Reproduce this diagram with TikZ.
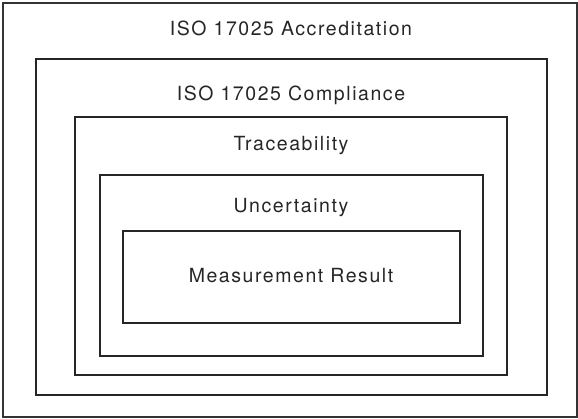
\documentclass[tikz,border=0pt]{standalone}
\usepackage{fontspec}
\newfontfamily\heros{TeX Gyre Heros}[LetterSpace=8]
\newcommand{\lblfont}{\heros\fontsize{19.5}{22}\selectfont}
\begin{document}
\begin{tikzpicture}[x=1pt,y=1pt,line width=1.6pt,lbl/.style={anchor=base,font=\lblfont,color=black!85}]
	\useasboundingbox (0,0) rectangle (578,419);
	% nested boxes, outermost first
	\draw[black!80] (3,2) rectangle (577,416);
	\draw[black!85] (36,24) rectangle (547,360);
	\draw[black!85] (75,44) rectangle (507,302);
	\draw[black!85] (100,63) rectangle (483,244);
	\draw[black!85] (123,96) rectangle (460,188);
	\node[lbl] (accr) at (291,383.3) {ISO 17025 Accreditation};
	\node[lbl] (compl) at (291,318) {ISO 17025 Compliance};
	\node[lbl] (trace) at (291,268.3) {Traceability};
	\node[lbl] (uncert) at (291,206.3) {Uncertainty};
	\node[lbl] (result) at (291,136.3) {Measurement Result};
\end{tikzpicture}
\end{document}
